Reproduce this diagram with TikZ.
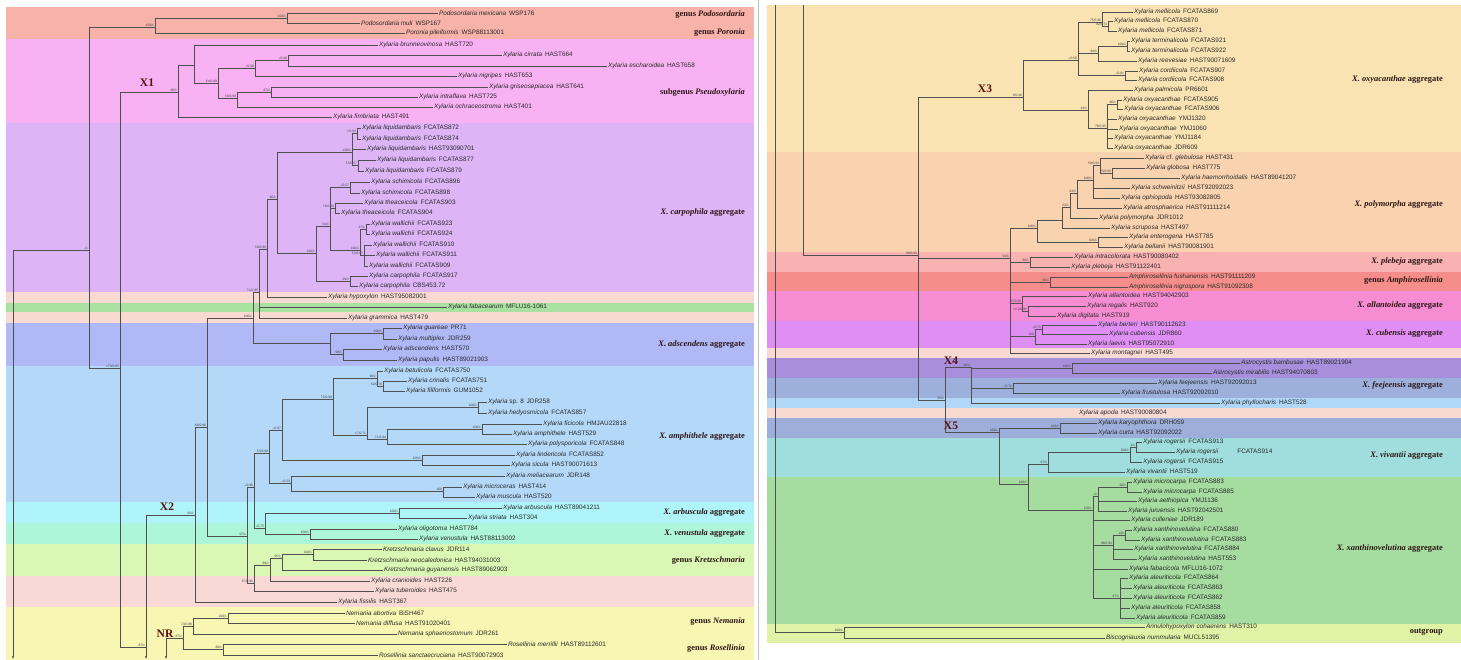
\documentclass[tikz,border=0pt]{standalone}
\usepackage{fontspec}
\setmainfont{Liberation Serif}
\setsansfont{Liberation Sans}
\usetikzlibrary{arrows.meta}
\definecolor{cPodo}{HTML}{F7B2A9}
\definecolor{cPseu}{HTML}{F8B1F3}
\definecolor{cCarp}{HTML}{DDB5F6}
\definecolor{cPeach}{HTML}{F8DAD3}
\definecolor{cGreen}{HTML}{A9E1A1}
\definecolor{cAdsc}{HTML}{B0B8F6}
\definecolor{cAmph}{HTML}{B4D8F8}
\definecolor{cArb}{HTML}{AEF4F8}
\definecolor{cVen}{HTML}{ADF6D9}
\definecolor{cKret}{HTML}{DAF8B3}
\definecolor{cPink}{HTML}{F8D9D6}
\definecolor{cYel}{HTML}{F7F6B3}
\definecolor{cOxy}{HTML}{FAE3B3}
\definecolor{cPoly}{HTML}{F9D2AF}
\definecolor{cPleb}{HTML}{F9B2B2}
\definecolor{cAmro}{HTML}{F58E8A}
\definecolor{cAllan}{HTML}{F68CD2}
\definecolor{cCub}{HTML}{DF8FF4}
\definecolor{cX4}{HTML}{A78FDC}
\definecolor{cFeej}{HTML}{9DB0DC}
\definecolor{cLblue}{HTML}{B0D7F7}
\definecolor{cX5}{HTML}{9DAEDB}
\definecolor{cViv}{HTML}{9FDEDC}
\definecolor{cXan}{HTML}{A6DCA0}
\definecolor{cOut}{HTML}{DFF2A6}
\definecolor{brc}{HTML}{505050}
\definecolor{txc}{HTML}{2A2A2A}
\definecolor{supc}{HTML}{444444}
\definecolor{grpc}{HTML}{2B1515}
\definecolor{clc}{HTML}{5A0E0E}
\newcounter{sn}
\newcommand\tax[6]{\node[tx] (#1) at (#3,#4) {\textit{#5}\hspace{0.45em}#6}; \draw[br] (#2,#4) -- (#1.west);}
\newcommand\bv[3]{\draw[br] (#1,#2) -- (#1,#3);}
\newcommand\bh[4]{\draw[br] (#1,#3) -- (#2,#3); \stepcounter{sn}\node[sup] (s\thesn) at (#2-0.5,#3-0.2) {#4};}
\newcommand\grp[4]{\node[grp] (#1) at (#2,#3) {#4};}
\begin{document}
\begin{tikzpicture}[x=1pt,y=-1pt,
  br/.style={draw=brc, line width=0.55pt},
  tx/.style={anchor=west, inner sep=0.8pt, font=\sffamily\fontsize{6.4}{7}\selectfont, text=txc},
  sup/.style={anchor=south east, inner sep=0.3pt, font=\sffamily\fontsize{3.3}{3.6}\selectfont, text=supc},
  grp/.style={anchor=east, inner sep=0pt, font=\bfseries\fontsize{8.4}{9}\selectfont, text=grpc},
  cl/.style={inner sep=0pt, font=\bfseries\fontsize{11.5}{12}\selectfont, text=clc},
  cont/.style={draw=brc, line width=0.55pt, -{Latex[length=2.6pt,width=2.2pt]}}]
\useasboundingbox (0,0) rectangle (1461,660);
\fill[white] (0,0) rectangle (1461,660);
% ---------- left bands
\fill[cPodo]  (6,7) rectangle (754,39);
\fill[cPseu]  (6,39) rectangle (754,123);
\fill[cCarp]  (6,123) rectangle (754,292);
\fill[cPeach] (6,292) rectangle (754,303);
\fill[cGreen] (6,303) rectangle (754,312);
\fill[cPeach] (6,312) rectangle (754,323);
\fill[cAdsc]  (6,323) rectangle (754,366);
\fill[cAmph]  (6,366) rectangle (754,502);
\fill[cArb]   (6,502) rectangle (754,523);
\fill[cVen]   (6,523) rectangle (754,544);
\fill[cKret]  (6,544) rectangle (754,576);
\fill[cPink]  (6,576) rectangle (754,607);
\fill[cYel]   (6,607) rectangle (754,660);
\draw[gray!50, line width=0.4pt] (758,0) -- (758,660);
% ---------- right bands
\fill[cOxy]   (767,5) rectangle (1461,152);
\fill[cPoly]  (767,152) rectangle (1461,252);
\fill[cPleb]  (767,252) rectangle (1461,272);
\fill[cAmro]  (767,272) rectangle (1461,291);
\fill[cAllan] (767,291) rectangle (1461,321);
\fill[cCub]   (767,321) rectangle (1461,348);
\fill[cPeach] (767,348) rectangle (1461,358);
\fill[cX4]    (767,358) rectangle (1461,378);
\fill[cFeej]  (767,378) rectangle (1461,398);
\fill[cLblue] (767,398) rectangle (1461,408);
\fill[cPeach] (767,408) rectangle (1461,418);
\fill[cX5]    (767,418) rectangle (1461,438);
\fill[cViv]   (767,438) rectangle (1461,477);
\fill[cXan]   (767,477) rectangle (1461,624);
\fill[cOut]   (767,624) rectangle (1461,643);

% ================= LEFT TREE =================
\draw[cont] (13,250) -- (13,659);
\bh{13}{89}{250}{-/1}
\bv{89}{27}{368}
\bh{89}{155}{27}{150/1}
\bh{89}{120}{368}{<70/0.65}
\bv{155}{18}{33}
\bh{155}{287}{18}{100/1}
\bv{287}{13}{23}
\tax{a1}{287}{438}{13}{Podosordaria mexicana}{WSP176}
\tax{a2}{287}{360}{23}{Podosordaria muli}{WSP167}
\tax{a3}{155}{405}{33}{Poronia pileiformis}{WSP88113001}
% X1
\bv{120}{92}{647}
\bh{120}{178}{92}{96/1}
\bh{120}{146}{647}{87/1}
\bv{178}{65}{117}
\bh{178}{194}{65}{}
\tax{a11}{178}{332}{117}{Xylaria fimbriata}{HAST491}
\bv{194}{45}{83}
\tax{a4}{194}{378}{45}{Xylaria brunneovinosa}{HAST720}
\bh{194}{218}{83}{64/0.99}
\bv{218}{68}{98}
\bh{218}{255}{68}{-/0.98}
\bh{218}{237}{98}{59/0.99}
\bv{255}{60.5}{76}
\bh{255}{288}{60.5}{-/0.96}
\tax{a7}{255}{457}{76}{Xylaria nigripes}{HAST653}
\bv{288}{55}{66}
\tax{a5}{288}{502}{55}{Xylaria cirrata}{HAST664}
\tax{a6}{288}{607}{66}{Xylaria escharoidea}{HAST658}
\bv{237}{92}{107}
\bh{237}{271}{92}{87/1}
\tax{a10}{237}{433}{107}{Xylaria ochraceostroma}{HAST401}
\bv{271}{87}{97}
\tax{a8}{271}{488}{87}{Xylaria griseosepiacea}{HAST641}
\tax{a9}{271}{418}{97}{Xylaria intraflava}{HAST725}
% X2
\draw[cont] (146,515) -- (146,659);
\bh{146}{195}{515}{92/1}
\bv{195}{427}{602}
\bh{195}{207}{427}{64/0.96}
\tax{f6}{195}{337}{602}{Xylaria fissilis}{HAST367}
\bv{207}{318}{536}
\bh{207}{253}{318}{100/1}
\bh{207}{247}{536}{97/1}
\bv{253}{292}{343}
\bh{253}{259}{292}{71/0.95}
\bh{253}{330}{343}{}
\bv{259}{249}{318}
\bh{259}{267}{249}{50/0.99}
\tax{b18}{259}{447}{307}{Xylaria fabacearum}{MFLU16-1061}
\tax{b19}{259}{347}{318}{Xylaria grammica}{HAST479}
\bv{267}{199}{297}
\bh{267}{277}{199}{96/1}
\tax{b17}{267}{327}{297}{Xylaria hypoxylon}{HAST95082001}
\bv{277}{152}{253}
\bh{277}{352}{152}{100/1}
\bh{277}{316}{253}{100/1}
\bv{352}{133.5}{165.5}
\bh{352}{357}{133.5}{+/0.93}
\bh{352}{358}{165.5}{53/0.57}
\bv{357}{128}{139}
\bv{358}{160}{171}
\tax{b1}{357}{361}{128}{Xylaria liquidambaris}{FCATAS872}
\tax{b2}{357}{361}{139}{Xylaria liquidambaris}{FCATAS874}
\tax{b3}{352}{366}{149}{Xylaria liquidambaris}{HAST93090701}
\tax{b4}{358}{376}{160}{Xylaria liquidambaris}{FCATAS877}
\tax{b5}{358}{364}{171}{Xylaria liquidambaris}{FCATAS879}
\bv{316}{226}{281}
\bh{316}{330}{226}{54/1}
\bh{316}{350}{281}{99/1}
\bv{330}{187.5}{250}
\bh{330}{350}{187.5}{-/0.57}
\bh{330}{335}{208}{76/0.84}
\bh{330}{360}{250}{100/1}
\bv{350}{182}{193}
\tax{b6}{350}{370}{182}{Xylaria schimicola}{FCATAS896}
\tax{b7}{350}{360}{193}{Xylaria schimicola}{FCATAS898}
\bv{335}{203}{213}
\tax{b8}{335}{363}{203}{Xylaria theaceicola}{FCATAS903}
\tax{b9}{335}{340}{213}{Xylaria theaceicola}{FCATAS904}
\bv{360}{229}{255.5}
\bh{360}{366}{229}{47/1}
\bh{360}{364}{255.5}{52/0.97}
\bv{366}{224}{234}
\bv{364}{245}{266}
\tax{b10}{366}{370}{224}{Xylaria wallichii}{FCATAS923}
\tax{b11}{366}{370}{234}{Xylaria wallichii}{FCATAS924}
\tax{b12}{364}{372}{245}{Xylaria wallichii}{FCATAS910}
\tax{b13}{364}{375}{255}{Xylaria wallichii}{FCATAS911}
\tax{b14}{364}{368}{266}{Xylaria wallichii}{FCATAS909}
\bv{350}{276}{286}
\tax{b15}{350}{368}{276}{Xylaria carpophila}{FCATAS917}
\tax{b16}{350}{358}{286}{Xylaria carpophila}{CBS453.72}
% adscendens
\bv{330}{333.5}{354.5}
\bh{330}{383}{333.5}{100/1}
\bh{330}{343}{354.5}{98/1}
\bv{383}{328}{339}
\bv{343}{349}{360}
\tax{c1}{383}{402}{328}{Xylaria guareae}{PR71}
\tax{c2}{383}{397}{339}{Xylaria multiplex}{JDR259}
\tax{c3}{343}{382}{349}{Xylaria adscendens}{HAST570}
\tax{c4}{343}{397}{360}{Xylaria papulis}{HAST89021903}
% amphithele etc
\bv{247}{487}{583}
\bh{247}{254}{487}{-/0.96}
\bh{247}{254}{583}{67/0.96}
\bv{254}{453}{528}
\bh{254}{269}{453}{53/0.99}
\bh{254}{265}{528}{-/0.75}
\bv{269}{430}{483}
\bh{269}{282}{430}{-/0.97}
\bh{269}{291}{483}{-/0.53}
\bv{282}{399}{460}
\bh{282}{333}{399}{75/0.99}
\bh{282}{422}{460}{100/1}
\bv{333}{378}{435}
\bh{333}{377}{378}{98/1}
\bh{333}{367}{435}{<7/0.71}
\bv{377}{371}{386}
\tax{d1}{377}{383}{371}{Xylaria betulicola}{FCATAS750}
\bh{377}{383}{386}{62/0.78}
\bv{383}{381}{391}
\tax{d2}{383}{407}{381}{Xylaria crinalis}{FCATAS751}
\tax{d3}{383}{405}{391}{Xylaria filiformis}{GUM1052}
\bv{367}{407.5}{439}
\bh{367}{478}{407.5}{100/1}
\bh{367}{387}{439}{71/0.94}
\bv{478}{402}{413}
\tax{d4}{478}{487}{402}{Xylaria \upshape sp. 8}{JDR258}
\tax{d5}{478}{487}{413}{Xylaria hedyosmicola}{FCATAS857}
\bv{387}{429}{444}
\bh{387}{482}{429}{100/1}
\tax{d8}{387}{527}{444}{Xylaria polysporicola}{FCATAS848}
\bv{482}{424}{434}
\tax{d6}{482}{542}{424}{Xylaria ficicola}{HMJAU22818}
\tax{d7}{482}{512}{434}{Xylaria amphithele}{HAST529}
\bv{422}{455}{465}
\tax{d9}{422}{515}{455}{Xylaria lindericola}{FCATAS852}
\tax{d10}{422}{510}{465}{Xylaria sicula}{HAST90071613}
\bv{291}{476}{491.5}
\tax{d11}{291}{505}{476}{Xylaria meliacearum}{JDR148}
\bh{291}{443}{491.5}{100}
\bv{443}{487}{497}
\tax{d12}{443}{462}{487}{Xylaria microceras}{HAST414}
\tax{d13}{443}{475}{497}{Xylaria muscula}{HAST520}
\bv{265}{513}{534}
\bh{265}{399}{513}{100/1}
\bh{265}{310}{534}{100/1}
\bv{399}{508}{518}
\tax{e1}{399}{502}{508}{Xylaria arbuscula}{HAST89041211}
\tax{e2}{399}{467}{518}{Xylaria striata}{HAST304}
\bv{310}{529}{539}
\tax{e3}{310}{397}{529}{Xylaria oligotoma}{HAST784}
\tax{e4}{310}{418}{539}{Xylaria venustula}{HAST88113002}
\bv{254}{565}{591}
\bh{254}{270}{565}{89/1}
\tax{f5}{254}{374}{591}{Xylaria tuberoides}{HAST475}
\bv{270}{558}{581}
\bh{270}{282}{558}{95/1}
\tax{f4}{270}{370}{581}{Xylaria cranioides}{HAST226}
\bv{282}{554.5}{570}
\bh{282}{313}{554.5}{100/1}
\tax{f3}{282}{383}{570}{Kretzschmaria guyanensis}{HAST89062903}
\bv{313}{549}{560}
\tax{f1}{313}{382}{549}{Kretzschmaria clavus}{JDR114}
\tax{f2}{313}{367}{560}{Kretzschmaria neocaledonica}{HAST94031003}
% NR
\draw[cont] (166,638) -- (166,659);
\bh{166}{183}{638}{87/1}
\bv{183}{626}{649.5}
\bh{183}{193}{626}{73/0.88}
\bh{183}{223}{649.5}{88/1}
\bv{193}{618}{634}
\bh{193}{228}{618}{100/1}
\tax{g3}{193}{397}{634}{Nemania sphaeriostomum}{JDR261}
\bv{228}{613}{623}
\tax{g1}{228}{345}{613}{Nemania abortiva}{BiSH467}
\tax{g2}{228}{355}{623}{Nemania diffusa}{HAST91020401}
\bv{223}{644}{655}
\tax{g4}{223}{507}{644}{Rosellinia merrillii}{HAST89112601}
\tax{g5}{223}{378}{655}{Rosellinia sanctaecruciana}{HAST90072903}
% clade labels left
\node[cl] (X1) at (147,83) {X1};
\node[cl] (X2) at (167,507) {X2};
\node[cl] (NR) at (165,634) {NR};
% group labels left
\grp{gPodo}{745}{15}{genus \textit{Podosordaria}}
\grp{gPoro}{745}{33}{genus \textit{Poronia}}
\grp{gPseu}{745}{93}{subgenus \textit{Pseudoxylaria}}
\grp{gCarp}{745}{213}{\textit{X. carpophila} aggregate}
\grp{gAdsc}{745}{345}{\textit{X. adscendens} aggregate}
\grp{gAmph}{745}{437}{\textit{X. amphithele} aggregate}
\grp{gArb}{745}{513}{\textit{X. arbuscula} aggregate}
\grp{gVen}{745}{534}{\textit{X. venustula} aggregate}
\grp{gKret}{745}{561}{genus \textit{Kretzschmaria}}
\grp{gNem}{745}{622}{genus \textit{Nemania}}
\grp{gRos}{745}{649}{genus \textit{Rosellinia}}

% ================= RIGHT TREE =================
\draw[br] (775,5) -- (775,632);
\bh{775}{844}{632}{100/1}
\bv{844}{627}{638}
\tax{v1}{844}{1145}{627}{Annulohypoxylon cohaerens}{HAST310}
\tax{v2}{844}{1105}{638}{Biscogniauxia nummularia}{MUCL51395}
\draw[br] (803,5) -- (803,255);
\bh{803}{918}{255}{99/0.95}
\bv{918}{97}{400}
\bh{918}{1023}{97}{9/0.46}
\bh{918}{1010}{258}{94/1}
\bh{918}{945}{400}{95/1}
% X3
\bv{1023}{60}{110}
\bh{1023}{1078}{60}{-/0.50}
\bh{1023}{1088}{110}{44/1}
\bv{1078}{22}{75.5}
\bh{1078}{1102}{22}{75/0.98}
\bh{1078}{1098}{53}{94/1}
\bh{1078}{1125}{75.5}{-/0.81}
\bv{1102}{12}{26}
\tax{r1}{1102}{1133}{12}{Xylaria mellicola}{FCATAS869}
\bh{1102}{1108}{26}{92/0.74}
\bv{1108}{21}{31}
\tax{r2}{1108}{1113}{21}{Xylaria mellicola}{FCATAS870}
\tax{r3}{1108}{1117}{31}{Xylaria mellicola}{FCATAS871}
\bv{1098}{46}{61}
\bh{1098}{1127}{46}{100/1}
\tax{r6}{1098}{1137}{61}{Xylaria reevesiae}{HAST90071609}
\bv{1127}{41}{51}
\tax{r4}{1127}{1130}{41}{Xylaria terminalicola}{FCATAS921}
\tax{r5}{1127}{1130}{51}{Xylaria terminalicola}{FCATAS922}
\bv{1125}{71}{80}
\tax{r7}{1125}{1138}{71}{Xylaria cordiicola}{FCATAS907}
\tax{r8}{1125}{1137}{80}{Xylaria cordiicola}{FCATAS908}
\bv{1088}{90}{128}
\tax{r9}{1088}{1133}{90}{Xylaria palmicola}{PR6601}
\bh{1088}{1107}{128}{76/0.95}
\bv{1107}{104.5}{148}
\bh{1107}{1117}{104.5}{96/1}
\bv{1117}{100}{109}
\tax{r10}{1117}{1122}{100}{Xylaria oxyacanthae}{FCATAS905}
\tax{r11}{1117}{1123}{109}{Xylaria oxyacanthae}{FCATAS906}
\tax{r12}{1107}{1117}{119}{Xylaria oxyacanthae}{YMJ1320}
\tax{r13}{1107}{1118}{129}{Xylaria oxyacanthae}{YMJ1060}
\tax{r14}{1107}{1113}{138}{Xylaria oxyacanthae}{YMJ1184}
\tax{r15}{1107}{1113}{148}{Xylaria oxyacanthae}{JDR609}
% polymorpha etc
\bv{1010}{228}{353}
\bh{1010}{1037}{228}{100/1}
\bh{1010}{1030}{262}{80/1}
\bh{1010}{1050}{282}{96/1}
\bh{1010}{1022}{303.5}{67/0.58}
\bh{1010}{1035}{336.5}{100}
\tax{s21}{1010}{1090}{353}{Xylaria montagnei}{HAST495}
\bv{1037}{220}{242}
\bh{1037}{1062}{220}{}
\bh{1037}{1098}{242}{100/1}
\bv{1098}{237}{247}
\tax{s9}{1098}{1128}{237}{Xylaria enterogena}{HAST785}
\tax{s10}{1098}{1123}{247}{Xylaria bellanii}{HAST90081901}
\bv{1062}{207}{228}
\bh{1062}{1070}{207}{52/1}
\tax{s8}{1062}{1110}{228}{Xylaria scruposa}{HAST497}
\bv{1070}{193}{218}
\bh{1070}{1077}{193}{63/1}
\tax{s7}{1070}{1098}{218}{Xylaria polymorpha}{JDR1012}
\bv{1077}{180.5}{208}
\bh{1077}{1093}{180.5}{100/1}
\tax{s6}{1077}{1122}{208}{Xylaria atrosphaerica}{HAST91111214}
\bv{1093}{165.5}{198}
\bh{1093}{1100}{165.5}{53/0.94}
\tax{s4}{1093}{1130}{188}{Xylaria schweinitzii}{HAST92092023}
\tax{s5}{1093}{1120}{198}{Xylaria ophiopoda}{HAST93082805}
\bv{1100}{158}{173}
\tax{s1}{1100}{1144}{158}{Xylaria \upshape cf. \itshape glebulosa}{HAST431}
\bh{1100}{1112}{173}{55/0.89}
\bv{1112}{168}{178}
\tax{s2}{1112}{1145}{168}{Xylaria globosa}{HAST775}
\tax{s3}{1112}{1180}{178}{Xylaria haemorrhoidalis}{HAST89041207}
\bv{1030}{257}{267}
\tax{s11}{1030}{1073}{257}{Xylaria intracolorata}{HAST90080402}
\tax{s12}{1030}{1070}{267}{Xylaria plebeja}{HAST91122401}
\bv{1050}{277}{287}
\tax{s13}{1050}{1128}{277}{Amphirosellinia fushanensis}{HAST91111209}
\tax{s14}{1050}{1128}{287}{Amphirosellinia nigrospora}{HAST91092308}
\bv{1022}{296}{311}
\tax{s15}{1022}{1087}{296}{Xylaria allantoidea}{HAST94042903}
\bh{1022}{1028}{311}{<1.2/0.95}
\bv{1028}{306}{316}
\tax{s16}{1028}{1086}{306}{Xylaria regalis}{HAST920}
\tax{s17}{1028}{1056}{316}{Xylaria digitata}{HAST919}
\bv{1035}{329.5}{344}
\bh{1035}{1042}{329.5}{-/0.75}
\tax{s20}{1035}{1087}{344}{Xylaria laevis}{HAST95072910}
\bv{1042}{325}{334}
\tax{s18}{1042}{1097}{325}{Xylaria berteri}{HAST90112623}
\tax{s19}{1042}{1108}{334}{Xylaria cubensis}{JDR860}
% X4 / X5
\bv{945}{367}{432}
\bh{945}{971}{367}{96/1}
\bh{945}{999}{432}{100/1}
\bv{971}{367}{403}
\bh{971}{1072}{368}{100/1}
\bh{971}{1013}{388}{-/0.72}
\tax{t5}{971}{1220}{403}{Xylaria phyllocharis}{HAST528}
\bv{1072}{363}{373}
\tax{t1}{1072}{1240}{363}{Astrocystis bambusae}{HAST89021904}
\tax{t2}{1072}{1212}{373}{Astrocystis mirabilis}{HAST94070803}
\bv{1013}{383}{393}
\tax{t3}{1013}{1157}{383}{Xylaria feejeensis}{HAST92092013}
\tax{t4}{1013}{1120}{393}{Xylaria frustulosa}{HAST92092010}
\node[tx] (t6) at (1078,413) {\textit{Xylaria apoda}\hspace{0.45em}HAST90080804};
\bv{999}{428}{484}
\bh{999}{1060}{428}{100/1}
\bh{999}{1028}{484}{100/1}
\bv{1060}{423}{433}
\tax{t7}{1060}{1097}{423}{Xylaria karyophthora}{DRH059}
\tax{t8}{1060}{1097}{433}{Xylaria curta}{HAST92092022}
\bv{1028}{464.5}{510}
\bh{1028}{1048}{464.5}{97/1}
\bh{1028}{1093}{510}{100/1}
\bv{1048}{452}{472}
\bh{1048}{1130}{452}{100/1}
\tax{u4}{1048}{1125}{472}{Xylaria vivantii}{HAST519}
\bv{1130}{447}{462}
\bh{1130}{1136}{447}{1/1}
\tax{u3}{1130}{1142}{462}{Xylaria rogersii}{FCATAS915}
\bv{1136}{442}{452}
\tax{u1}{1136}{1142}{442}{Xylaria rogersii}{FCATAS913}
\tax{u2}{1136}{1175}{452}{Xylaria rogersii}{\hspace{2.5em}FCATAS914}
\bv{1093}{496}{598}
\bh{1093}{1098}{496}{-/1}
\bh{1093}{1113}{545}{96/0.94}
\bh{1093}{1120}{598}{87/1}
\tax{u9}{1093}{1130}{520}{Xylaria culleniae}{JDR189}
\tax{u14}{1093}{1128}{569}{Xylaria fabacicola}{MFLU16-1072}
\bv{1098}{487}{511}
\bh{1098}{1127}{487}{90/1}
\tax{u7}{1098}{1137}{501}{Xylaria aethiopica}{YMJ1136}
\tax{u8}{1098}{1127}{511}{Xylaria juruensis}{HAST92042501}
\bv{1127}{482}{492}
\tax{u5}{1127}{1132}{482}{Xylaria microcarpa}{FCATAS883}
\tax{u6}{1127}{1142}{492}{Xylaria microcarpa}{FCATAS885}
\bv{1113}{535}{559}
\bh{1113}{1125}{535}{100}
\tax{u12}{1113}{1133}{549}{Xylaria xanthinovelutina}{FCATAS884}
\tax{u13}{1113}{1137}{559}{Xylaria xanthinovelutina}{HAST553}
\bv{1125}{530}{540}
\tax{u10}{1125}{1132}{530}{Xylaria xanthinovelutina}{FCATAS880}
\tax{u11}{1125}{1140}{540}{Xylaria xanthinovelutina}{FCATAS883}
\bv{1120}{578}{618}
\tax{u15}{1120}{1128}{578}{Xylaria aleuriticola}{FCATAS864}
\tax{u16}{1120}{1132}{588}{Xylaria aleuriticola}{FCATAS863}
\tax{u17}{1120}{1132}{598}{Xylaria aleuriticola}{FCATAS862}
\tax{u18}{1120}{1130}{608}{Xylaria aleuriticola}{FCATAS858}
\tax{u19}{1120}{1135}{618}{Xylaria aleuriticola}{FCATAS859}
% clade labels right
\node[cl] (X3) at (985,89) {X3};
\node[cl] (X4) at (951,361) {X4};
\node[cl] (X5) at (951,426) {X5};
% group labels right
\grp{gOxy}{1443}{80}{\textit{X. oxyacanthae} aggregate}
\grp{gPoly}{1443}{205}{\textit{X. polymorpha} aggregate}
\grp{gPleb}{1443}{262}{\textit{X. plebeja} aggregate}
\grp{gAmro}{1443}{281}{genus \textit{Amphirosellinia}}
\grp{gAllan}{1443}{306}{\textit{X. allantoidea} aggregate}
\grp{gCub}{1443}{334}{\textit{X. cubensis} aggregate}
\grp{gFeej}{1443}{385}{\textit{X. feejeensis} aggregate}
\grp{gViv}{1443}{456}{\textit{X. vivantii} aggregate}
\grp{gXan}{1443}{549}{\textit{X. xanthinovelutina} aggregate}
\grp{gOut}{1443}{632}{outgroup}
\end{tikzpicture}
\end{document}
